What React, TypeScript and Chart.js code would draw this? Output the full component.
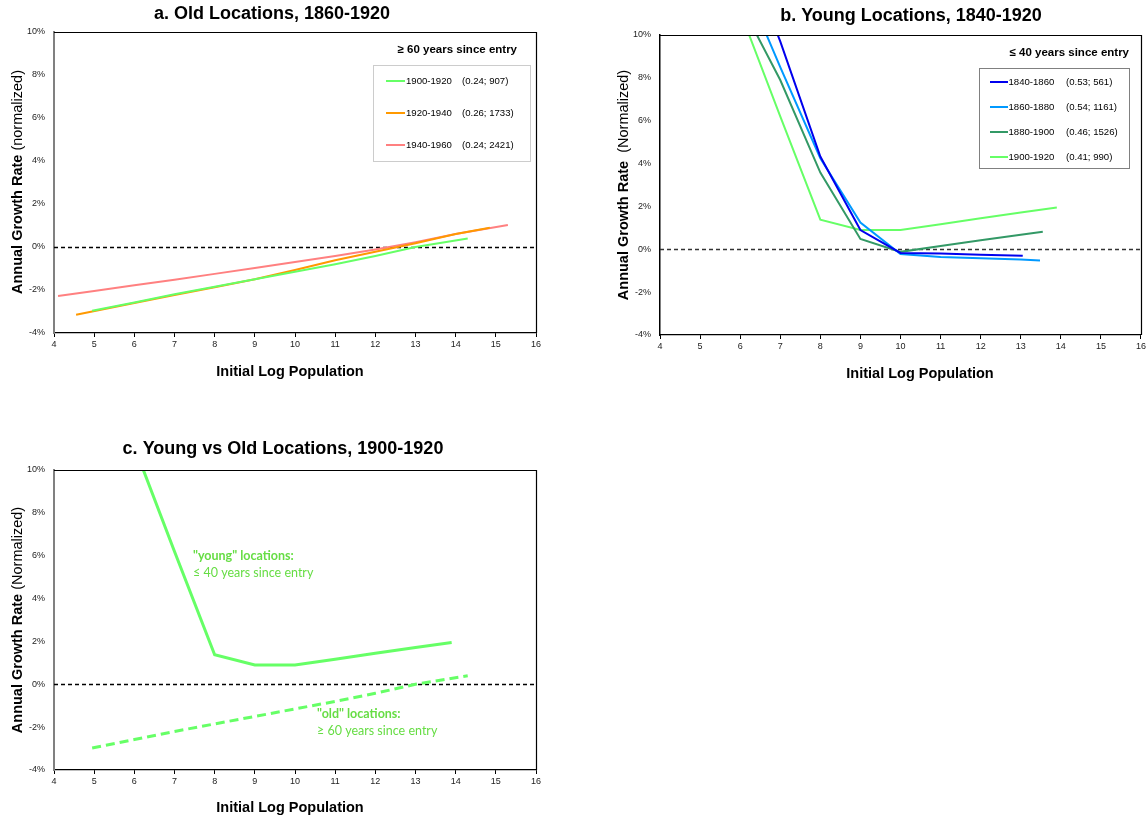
import React, { useEffect, useRef } from "react";
import { Chart, registerables } from "chart.js";
Chart.register(...registerables);

// ---------- data ----------
const X_TICK_MIN = 4;
const X_TICK_MAX = 16;
const Y_TICK_MIN = -4;
const Y_TICK_MAX = 10;

// Panel a: old locations (>= 60 years since entry)
const oldPeriods = ["1900-1920", "1920-1940", "1940-1960"];
const oldStats = ["(0.24; 907)", "(0.26; 1733)", "(0.24; 2421)"];
const old1900X = [4.95, 6, 7, 8, 9, 10, 11, 12, 13, 14.3];
const old1900Y = [-2.97, -2.58, -2.2, -1.85, -1.5, -1.15, -0.8, -0.42, 0.0, 0.4];
const old1920X = [4.55, 6, 7, 8, 9, 10, 11, 12, 13, 14, 14.85];
const old1920Y = [-3.15, -2.6, -2.23, -1.87, -1.5, -1.07, -0.62, -0.22, 0.17, 0.6, 0.9];
const old1940X = [4.1, 5, 6, 7, 8, 9, 10, 11, 12, 13, 14, 15.3];
const old1940Y = [-2.28, -2.05, -1.78, -1.52, -1.25, -0.98, -0.7, -0.42, -0.12, 0.22, 0.6, 1.02];

// Panel b: young locations (<= 40 years since entry)
const youngPeriods = ["1840-1860", "1860-1880", "1880-1900", "1900-1920"];
const youngStats = ["(0.53; 561)", "(0.54; 1161)", "(0.46; 1526)", "(0.41; 990)"];
const young1840X = [6, 7, 8, 9, 10, 11, 12, 13.05];
const young1840Y = [14.5, 9.7, 4.33, 0.9, -0.17, -0.2, -0.25, -0.3];
const young1860X = [6, 7, 8, 9, 10, 11, 12, 13, 13.48];
const young1860Y = [12.9, 8.5, 4.25, 1.25, -0.22, -0.36, -0.42, -0.48, -0.52];
const young1880X = [6, 7, 8, 9, 10, 11, 12, 13, 13.55];
const young1880Y = [11.5, 7.9, 3.58, 0.48, -0.12, 0.15, 0.42, 0.68, 0.82];
const young1900X = [6, 7, 8, 9, 10, 11, 12, 13, 13.9];
const young1900Y = [11.1, 6.2, 1.38, 0.9, 0.9, 1.17, 1.45, 1.72, 1.95];

const titles = [
  "a. Old Locations, 1860-1920",
  "b. Young Locations, 1840-1920",
  "c. Young vs Old Locations, 1900-1920",
];
const xTitle = "Initial Log Population";
const yTitleBold = "Annual Growth Rate";
const yTitleNormal = [" (normalized)", "  (Normalized)", " (Normalized)"];
const oldLegendTitle = "\u2265 60 years since entry";
const youngLegendTitle = "\u2264 40 years since entry";
const youngNote = ["\"young\" locations:", "\u2264 40 years since entry"];
const oldNote = ["\"old\" locations:", "\u2265 60 years since entry"];

// ---------- helpers ----------
const pts = (xs: number[], ys: number[]) => xs.map((x, i) => ({ x, y: ys[i] }));
const SANS = "'Liberation Sans', Arial, sans-serif";

type Area = { l: number; t: number; r: number; b: number };
type Panel = {
  left: number;
  top: number;
  w: number;
  h: number;
  area: Area;
  datasets: any[];
  title: string;
  titlePos: [number, number];
  xTitlePos: [number, number];
  yTitlePos: [number, number];
  yNormal: string;
  leftAxisColor: string;
  leftAxisWidth: number;
  zeroColor: string;
  legend?: {
    box: Area;
    title: string;
    titleRight: number;
    titleY: number;
    rows: number[];
    sample: [number, number];
    labelX: number;
    statX: number;
    periods: string[];
    stats: string[];
    colors: string[];
    border: string;
  };
  notes?: { x: number; y: number; bold: string; normal: string }[];
};

const GREEN = "#66FF66";
const ORANGE = "#FF9900";
const PINK = "#FF8080";
const BLUE = "#0000EE";
const LBLUE = "#0099FF";
const DGREEN = "#339966";
const NOTE_GREEN = "#66DD44";

const line = (label: string, data: any[], color: string, width = 2, dash: number[] = []) => ({
  label,
  data,
  borderColor: color,
  backgroundColor: color,
  borderWidth: width,
  borderDash: dash,
  pointRadius: 0,
  tension: 0,
  fill: false,
  clip: 0,
});

const panels: Panel[] = [
  {
    left: 0,
    top: 0,
    w: 574,
    h: 400,
    area: { l: 54, t: 32, r: 536, b: 333 },
    datasets: [
      line(oldPeriods[0], pts(old1900X, old1900Y), GREEN),
      line(oldPeriods[1], pts(old1920X, old1920Y), ORANGE),
      line(oldPeriods[2], pts(old1940X, old1940Y), PINK),
    ],
    title: titles[0],
    titlePos: [272, 14],
    xTitlePos: [290, 372],
    yTitlePos: [18, 182],
    yNormal: yTitleNormal[0],
    leftAxisColor: "#808080",
    leftAxisWidth: 2,
    zeroColor: "#000000",
    legend: {
      box: { l: 373, t: 65, r: 530, b: 161 },
      title: oldLegendTitle,
      titleRight: 517,
      titleY: 50,
      rows: [81, 113, 145],
      sample: [386, 405],
      labelX: 406,
      statX: 462,
      periods: oldPeriods,
      stats: oldStats,
      colors: [GREEN, ORANGE, PINK],
      border: "#CCCCCC",
    },
  },
  {
    left: 574,
    top: 0,
    w: 574,
    h: 400,
    area: { l: 86, t: 35, r: 568, b: 335 },
    datasets: [
      line(youngPeriods[0], pts(young1840X, young1840Y), BLUE),
      line(youngPeriods[1], pts(young1860X, young1860Y), LBLUE),
      line(youngPeriods[2], pts(young1880X, young1880Y), DGREEN),
      line(youngPeriods[3], pts(young1900X, young1900Y), GREEN),
    ],
    title: titles[1],
    titlePos: [337, 16],
    xTitlePos: [346, 374],
    yTitlePos: [50, 185],
    yNormal: yTitleNormal[1],
    leftAxisColor: "#000000",
    leftAxisWidth: 1.5,
    zeroColor: "#333333",
    legend: {
      box: { l: 405, t: 68, r: 555, b: 168 },
      title: youngLegendTitle,
      titleRight: 555,
      titleY: 53,
      rows: [82, 107, 132, 157],
      sample: [416, 434],
      labelX: 434.5,
      statX: 492,
      periods: youngPeriods,
      stats: youngStats,
      colors: [BLUE, LBLUE, DGREEN, GREEN],
      border: "#808080",
    },
  },
  {
    left: 0,
    top: 420,
    w: 574,
    h: 400,
    area: { l: 54, t: 50, r: 536, b: 350 },
    datasets: [
      line("young", pts(young1900X, young1900Y), GREEN, 3),
      line("old", pts(old1900X, old1900Y), GREEN, 3, [9, 5]),
    ],
    title: titles[2],
    titlePos: [283, 29],
    xTitlePos: [290, 388],
    yTitlePos: [18, 200],
    yNormal: yTitleNormal[2],
    leftAxisColor: "#808080",
    leftAxisWidth: 2,
    zeroColor: "#000000",
    notes: [
      { x: 193, y: 136, bold: youngNote[0], normal: "" },
      { x: 193, y: 153, bold: "", normal: youngNote[1] },
      { x: 317, y: 294, bold: oldNote[0], normal: "" },
      { x: 317, y: 311, bold: "", normal: oldNote[1] },
    ],
  },
];

function makeChart(canvas: HTMLCanvasElement, p: Panel) {
  const decor = {
    id: "decor",
    beforeDatasetsDraw(chart: any) {
      const ctx = chart.ctx as CanvasRenderingContext2D;
      const a = chart.chartArea;
      const y0 = chart.scales.y.getPixelForValue(0);
      ctx.save();
      ctx.strokeStyle = p.zeroColor;
      ctx.lineWidth = 1.3;
      ctx.setLineDash([4, 3]);
      ctx.beginPath();
      ctx.moveTo(a.left, Math.round(y0) + 0.5);
      ctx.lineTo(a.right, Math.round(y0) + 0.5);
      ctx.stroke();
      ctx.restore();
    },
    afterDraw(chart: any) {
      const ctx = chart.ctx as CanvasRenderingContext2D;
      const a = chart.chartArea;
      ctx.save();
      // frame top/right
      ctx.strokeStyle = "#000";
      ctx.lineWidth = 1.2;
      ctx.setLineDash([]);
      ctx.beginPath();
      ctx.moveTo(a.left, a.top + 0.5);
      ctx.lineTo(a.right + 0.5, a.top + 0.5);
      ctx.lineTo(a.right + 0.5, a.bottom);
      ctx.stroke();

      // title
      ctx.fillStyle = "#000";
      ctx.textAlign = "center";
      ctx.textBaseline = "middle";
      ctx.font = `bold 18px ${SANS}`;
      ctx.fillText(p.title, p.titlePos[0], p.titlePos[1]);

      // x title
      ctx.font = `bold 14.5px ${SANS}`;
      ctx.fillText(xTitle, p.xTitlePos[0], p.xTitlePos[1]);

      // y title (mixed weights)
      ctx.save();
      ctx.translate(p.yTitlePos[0], p.yTitlePos[1]);
      ctx.rotate(-Math.PI / 2);
      ctx.textAlign = "left";
      ctx.font = `bold 14.5px ${SANS}`;
      const wb = ctx.measureText(yTitleBold).width;
      ctx.font = `14.5px ${SANS}`;
      const wn = ctx.measureText(p.yNormal).width;
      const start = -(wb + wn) / 2;
      ctx.font = `bold 14.5px ${SANS}`;
      ctx.fillText(yTitleBold, start, 0);
      ctx.font = `14.5px ${SANS}`;
      ctx.fillText(p.yNormal, start + wb, 0);
      ctx.restore();

      // legend
      const lg = p.legend;
      if (lg) {
        ctx.fillStyle = "#fff";
        ctx.fillRect(lg.box.l, lg.box.t, lg.box.r - lg.box.l, lg.box.b - lg.box.t);
        ctx.strokeStyle = lg.border;
        ctx.lineWidth = 1;
        ctx.strokeRect(lg.box.l + 0.5, lg.box.t + 0.5, lg.box.r - lg.box.l, lg.box.b - lg.box.t);
        ctx.fillStyle = "#000";
        ctx.textAlign = "right";
        ctx.textBaseline = "middle";
        ctx.font = `bold 11.5px ${SANS}`;
        ctx.fillText(lg.title, lg.titleRight, lg.titleY);
        ctx.font = `9.6px ${SANS}`;
        ctx.textAlign = "left";
        lg.rows.forEach((ry, i) => {
          ctx.strokeStyle = lg.colors[i];
          ctx.lineWidth = 2;
          ctx.beginPath();
          ctx.moveTo(lg.sample[0], ry);
          ctx.lineTo(lg.sample[1], ry);
          ctx.stroke();
          ctx.fillStyle = "#000";
          ctx.fillText(lg.periods[i], lg.labelX, ry);
          ctx.fillText(lg.stats[i], lg.statX, ry);
        });
      }

      // notes
      if (p.notes) {
        ctx.fillStyle = NOTE_GREEN;
        ctx.textAlign = "left";
        ctx.textBaseline = "middle";
        p.notes.forEach((n) => {
          if (n.bold) {
            ctx.font = `bold 12.5px Lato, ${SANS}`;
            ctx.fillText(n.bold, n.x, n.y);
          }
          if (n.normal) {
            ctx.font = `12.5px Lato, ${SANS}`;
            ctx.fillText(n.normal, n.x, n.y);
          }
        });
      }
      ctx.restore();
    },
  };

  const tickFont = { family: SANS, size: 9 };
  return new Chart(canvas, {
    type: "line",
    data: { datasets: p.datasets },
    options: {
      animation: false,
      responsive: false,
      devicePixelRatio: 1,
      events: [],
      layout: {
        padding: { left: 0, top: p.area.t, right: p.w - p.area.r, bottom: 0 },
      },
      plugins: { legend: { display: false }, title: { display: false }, tooltip: { enabled: false } },
      scales: {
        x: {
          type: "linear",
          min: X_TICK_MIN,
          max: X_TICK_MAX,
          afterFit: (s: any) => {
            s.height = p.h - p.area.b;
          },
          ticks: {
            stepSize: 1,
            autoSkip: false,
            maxRotation: 0,
            padding: 2,
            color: "#222",
            font: tickFont,
          },
          grid: { display: true, drawOnChartArea: false, drawTicks: true, tickLength: 4, color: "#000" },
          border: { display: true, color: "#000", width: 1.2 },
        },
        y: {
          type: "linear",
          min: Y_TICK_MIN,
          max: Y_TICK_MAX,
          afterFit: (s: any) => {
            s.width = p.area.l;
          },
          ticks: {
            stepSize: 2,
            padding: 9,
            color: "#222",
            font: tickFont,
            callback: (v: any) => `${v}%`,
          },
          grid: { display: false, drawTicks: false, tickLength: 0 },
          border: { display: true, color: p.leftAxisColor, width: p.leftAxisWidth },
        },
      },
    },
    plugins: [decor],
  } as any);
}

function PanelCanvas({ p }: { p: Panel }) {
  const ref = useRef<HTMLCanvasElement | null>(null);
  useEffect(() => {
    if (!ref.current) return;
    const c = makeChart(ref.current, p);
    return () => c.destroy();
  }, [p]);
  return (
    <canvas
      ref={ref}
      width={p.w}
      height={p.h}
      style={{ position: "absolute", left: p.left, top: p.top, width: p.w, height: p.h }}
    />
  );
}

export default function App() {
  return (
    <div style={{ position: "absolute", left: 0, top: 0, width: 1148, height: 820, background: "#fff", overflow: "hidden" }}>
      {panels.map((p, i) => (
        <PanelCanvas key={i} p={p} />
      ))}
    </div>
  );
}
